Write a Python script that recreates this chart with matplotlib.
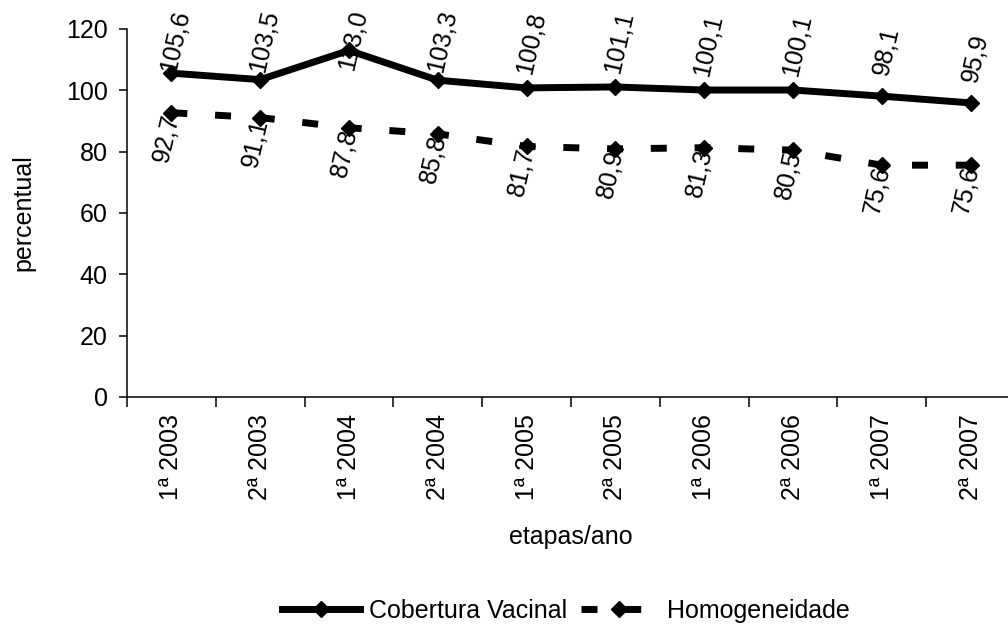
import matplotlib
matplotlib.use("Agg")
import matplotlib.pyplot as plt
import numpy as np

plt.rcParams["font.family"] = ["Liberation Sans", "DejaVu Sans"]

# ── dados ──────────────────────────────────────────────────────────────────
etapas = ["1ª 2003", "2ª 2003", "1ª 2004", "2ª 2004", "1ª 2005",
          "2ª 2005", "1ª 2006", "2ª 2006", "1ª 2007", "2ª 2007"]
cobertura = [105.6, 103.5, 113.0, 103.3, 100.8, 101.1, 100.1, 100.1, 98.1, 95.9]
homogeneidade = [92.7, 91.1, 87.8, 85.8, 81.7, 80.9, 81.3, 80.5, 75.6, 75.6]
yticks = [0, 20, 40, 60, 80, 100, 120]

FS = 18
W, H = 1008, 628


def fmt(v):
    return f"{v:.1f}".replace(".", ",")


fig = plt.figure(figsize=(W/100, H/100), dpi=100)
ax = fig.add_axes([127/W, 1-397/H, 888/W, 368/H])
x = np.arange(len(etapas))

ax.plot(x, cobertura, color="black", lw=5, marker="D", ms=8, zorder=3,
        label="Cobertura Vacinal")
ax.plot(x, homogeneidade, color="black", lw=5, marker="D", ms=8, zorder=3,
        linestyle=(0, (2.3, 4.0)), label="Homogeneidade")

# rótulos de dados (acima / abaixo, girados como no Excel)
labels = []
for xi, v in zip(x, cobertura):
    t = ax.annotate(fmt(v), (xi, v), xytext=(4, 45), textcoords="offset pixels",
                    rotation=77, ha="center", va="center", fontsize=FS, zorder=2)
    labels.append(t)
for xi, v in zip(x, homogeneidade):
    ax.annotate(fmt(v), (xi, v), xytext=(-5, -25), textcoords="offset pixels",
                rotation=77, ha="center", va="center", fontsize=FS, zorder=2)

ax.set_xlim(-0.5, len(etapas) - 0.5)
ax.set_ylim(0, 120)
ax.set_yticks(yticks)
ax.tick_params(axis="y", direction="out", length=6, width=1.1, labelsize=FS, pad=8)

# ticks nos limites das categorias, rótulos no centro
ax.set_xticks(np.arange(-0.5, len(etapas)), [""] * (len(etapas) + 1))
ax.set_xticks(x, etapas, minor=True, rotation=90)
ax.tick_params(axis="x", which="major", direction="out", length=7, width=1.1)
ax.tick_params(axis="x", which="minor", length=0, labelsize=FS, pad=12)

for s in ["top", "right"]:
    ax.spines[s].set_visible(False)
for s in ["left", "bottom"]:
    ax.spines[s].set_linewidth(1.1)

ax.set_xlabel("etapas/ano", fontsize=FS, labelpad=18)
ax.set_ylabel("percentual", fontsize=FS, labelpad=22)

fig.legend(loc="center", bbox_to_anchor=(566/W, 1-611/H), ncol=2, frameon=False,
           fontsize=FS, handlelength=3.1, columnspacing=0.55, handletextpad=0.35)

# rótulos que saem pelo topo descem para dentro da figura
fig.canvas.draw()
for t in labels:
    bb = t.get_window_extent()
    over = bb.y1 - (H - 8)
    if over > 0:
        dx, dy = t.xyann
        t.xyann = (dx, dy - over)

fig.savefig("out.png", dpi=100)
